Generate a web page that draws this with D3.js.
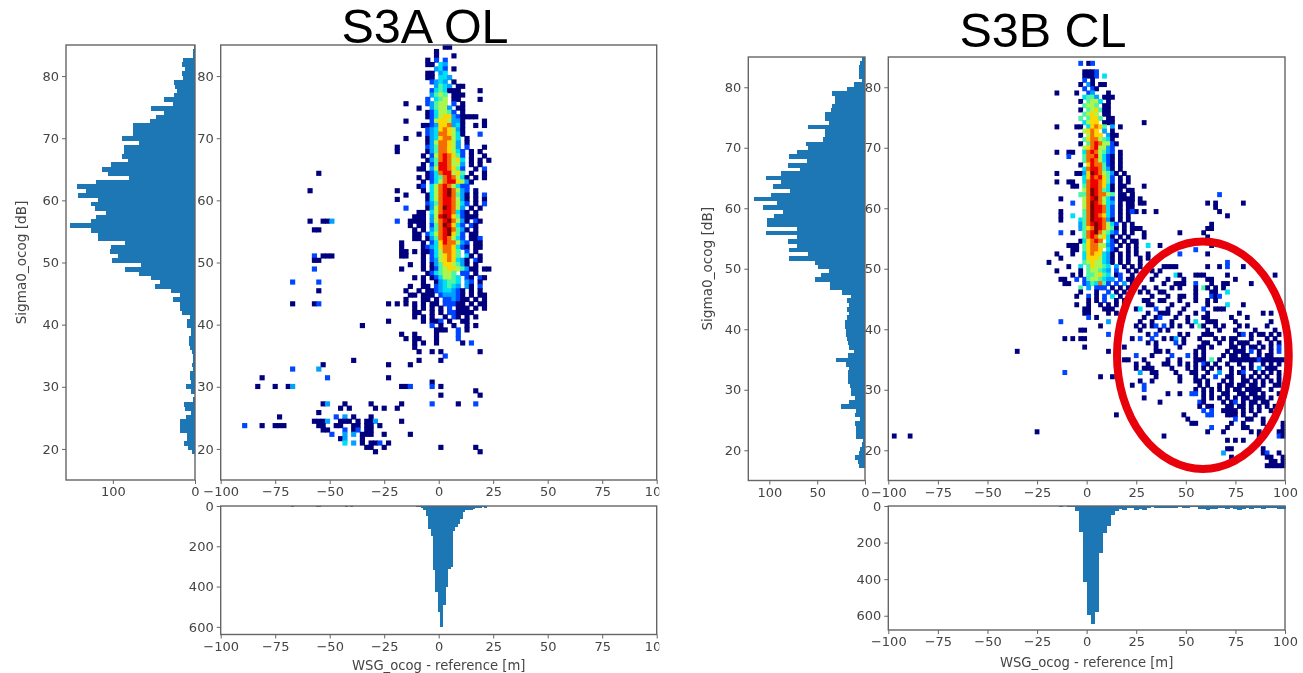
<!DOCTYPE html>
<html>
<head>
<meta charset="utf-8">
<script src="https://cdn.jsdelivr.net/npm/d3@7"></script>
<style>
  html, body { margin: 0; background: #fff; }
  text { font-family: "DejaVu Sans", sans-serif; }
</style>
</head>
<body>
<div id="chart"></div>
<script>
// 100 x 100 bins of the 2d histogram, x -100..100 m, y 15..85 dB
const wsgBin = 2;
const sigmaBin = 0.7;
const sigmaTop = 85;

const wsgTicks = [-100, -75, -50, -25, 0, 25, 50, 75, 100];
const sigmaTicks = [20, 30, 40, 50, 60, 70, 80];
const titles = ["S3A OL", "S3B CL"];
const xLabel = "WSG_ocog - reference [m]";
const yLabel = "Sigma0_ocog [dB]";

// side histograms, top row first
const s3aSigmaCounts = [1,2,2,14,16,12,16,14,26,24,22,26,38,27,53,38,47,55,76,76,76,89,68,87,86,89,81,102,113,106,80,120,144,
  133,142,118,127,122,108,120,127,152,127,118,118,85,102,103,94,101,66,85,68,53,42,49,29,18,27,18,18,16,6,
  10,10,5,5,7,7,6,4,2,3,4,2,6,6,5,11,5,0,3,13,12,5,11,18,18,18,10,10,13,8,4,0,0,0,0,0,0];
const s3bSigmaCounts = [3,5,6,6,6,3,12,19,34,31,31,34,36,42,42,38,60,42,42,44,62,60,71,79,61,81,68,88,103,88,96,78,98,116,92,107,86,95,102,102,
  71,103,71,81,71,79,60,79,52,49,38,46,52,37,37,24,15,19,17,19,17,19,21,21,20,20,19,18,17,12,18,30,20,17,18,18,18,16,15,15,
  10,17,25,9,10,5,10,9,9,9,2,3,5,6,10,7,6,0,0,0];

// bottom histograms. S3A has its own 100 bins over -90..22 m
const s3aWsgStart = -90;
const s3aWsgStep = 1.12;
const s3aWsgCounts = [1,0,0,0,0,0,0,0,0,0, 0,0,0,1,0,0,0,0,1,0, 3,0,0,0,0,0,0,0,1,2, 7,4,1,1,1,0,0,0,0,0,
  0,1,3,1,3,1,0,0,1,0, 1,1,0,1,0,0,1,0,0,0, 1,0,0,0,0,1,0,2,0,1, 2,3,4,8,20,50,112,150,320,425,
  525,603,490,400,315,303,122,105,88,65, 32,22,18,18,14,12,10,8,6,8];
const s3bWsgStart = -100;
const s3bWsgStep = 2;
const s3bWsgCounts = [0,0,0,0,0,0,0,0,0,0, 0,0,0,0,0,0,0,0,0,0, 0,0,0,0,0,0,0,0,0,0, 0,0,0,0,0,0,0,0,0,0,
  0,0,0,3,1,3,3,27,140,416, 598,645,580,258,145,107,49,27,16,22, 9,12,22,14,20,12,4,10,10,9,
  10,9,10,8,10,9,8,8,14,16, 22,18,14,12,10,14,12,18,20,16, 12,14,10,12,14,12,10,12,14,14];

// dense part of the 2d histograms, one string per row from the top,
// first character is the bin centred on the start value, a = 10 counts
const s3aCoreStart = -23;
const s3aCore = [
  "             11",
  "           1",
  "           1   1",
  "         1 2 2",
  "         11 43",
  "           342 1",
  "         11 34",
  "         11 443",
  "          2343 1",
  "           3543 11",
  "          2454111    1",
  "          3565 111",
  "         2 456 11    1",
  "    1    23566 2 1",
  "       1  35663 11",
  "         1246652 1",
  "         124677321111",
  "    1     26776331    1",
  "        1123778341  1 1",
  "         234787631",
  "       1 234887641   2",
  "    1    13478864 1",
  "         13688763 1",
  "  1      23588763 2   1",
  "  1      135887642 1 1",
  "        1 26898752 1  1",
  "         135898674 1 1 1",
  "        1 25998663 1 1",
  "       11 36998752  1 2",
  "         124899675 1  1",
  "       1 1245898641 1 1",
  "        1 2468997631",
  "       12 468986422",
  "  1     1 4689a8632 1",
  "    1    14689a8531 1 2",
  "  1      1468998631 1 1",
  "         2358998642 1 2",
  "    2    1368a9863 1 1",
  "       11 468998421 1",
  "      111 369a9752111",
  "  2  1111 3689a8631 21",
  "     1 11 258a9742 21",
  "      1 1 3589a8531 1",
  "      11 24689a752 11",
  "      11 135898642 112",
  "   1    1 247988632 11",
  "   1    12347887421 11",
  "   11 1 112468875 2 1",
  "   11   1 2467875 41 1",
  "        1 236787431 21",
  "     1  1 135776531 1",
  "   1    1 12567765311 11",
  "         1245665 22 1",
  "      1 1 1246654 21 21",
  "        1  134554 32 1",
  "     1  11 234543 31 2",
  "    1  1 112344321 1 1",
  "     11 111 233321 1 11",
  "    1   11 1 223211 1 1",
  "  1 1 1 1 11 22211 1 11",
  "      1 1 1 1 2 111 1 1",
  "      11  1 1 221111",
  "      1 1 1  1 21 1 1",
  "        1 112 1  11",
  "          2 1  1  1 1",
  "           111  2 1",
  "   1  1    1    2",
  "    1 11   1    2",
  "      1 1  1     1 2",
  "      1",
  "       1  1 1        1",
  "             2",
  "       1    1"
];
const s3bCoreStart = -19;
const s3bCore = [
  "",
  "        2 12",
  "",
  "         1112",
  "         1112 4",
  "         2 1",
  "        1 31 11",
  "         2 21",
  "  1    1  23   1",
  "         4553 111",
  "        1 5664 1",
  "         5665 11",
  "        1 567511",
  "         5676 11",
  "        5 5775 11",
  "         4677 111",
  "  1    11 47875 3 1",
  "         6787 3 1",
  "        1 6877 311",
  "         57886541",
  "        1 58986621",
  "         67896632",
  "  1  11  48986532 1",
  "     2   58896421 1",
  "         58986421 1",
  "        1 7988521 1",
  "         48998531 1",
  "  1    1137a986531 1",
  "         47989752 1 1",
  "  1  11  48998752 1 1",
  "      11 58998741 11",
  "         68a98541 1 1",
  "        558a98865 11 1",
  "   1     689a8642 11 1 1",
  "      2  68a98643 1 11",
  "         68a99842 1 11",
  "   1     58a99842 1 1 1",
  "   1  4  58a98742 1 1",
  "   1    458a99831 1 1",
  "        3589a98642 1 1",
  "        3578a98651 1 1 1",
  "   2  1  589a86532 1 1",
  "         58986741 1 1",
  "        147898 421 1 11",
  "     111 57886632 1 1",
  "      11 57887 421  1 1",
  "  1   1  47877431 1 1 1",
  "   1     47776431 1 1",
  "1        56766431 1 1",
  "     1  4 576654 3 1 1 1",
  "  1     1 566543 2  1 1",
  "      1 1 556754 12  1",
  "   11  2 25665433 2 11",
  "    11   2354852 2 3 1",
  "        5 3 222 1 1 1",
  "        1   1  2 1 1 1",
  "       1  2 1 2 4 1 1",
  "          1 1 2  1 1",
  "       1  1  1 1 1 1",
  "         11   111  1"
];

// isolated cells: [sigma, "wsg wsg:count ..."], one count when no count is given
const s3aScatter = [
  [64.35, "-55"], [61.55, "-59"], [56.65, "-59 -53 -51 -49:3"], [55.25, "-57 -55"],
  [51.05, "-57:2 -53 -51 -49"], [50.35, "-57 -55"], [48.95, "-57:2"], [46.85, "-67:2 -55:2"],
  [45.45, "-55"], [43.35, "-67 -57 -55:2 -23"], [40.55, "-23"], [39.85, "-35"], [34.25, "-39"],
  [33.55, "-53 -23 -13"], [32.85, "-67:2 -55:3"], [31.45, "-81 -51:2 -23"], [30.75, "-3"],
  [30.05, "-83 -75 -69 -67:3 -17 -15 -13:2 -3:2 1"], [29.35, "17"], [28.65, "1 19"],
  [27.25, "-53 -51:3 -43 -31 -17 -3:2 9 17:2"], [26.55, "-45 -41 -29 -25 -19"], [25.85, "-55"],
  [25.15, "-73 -47:2 -43:3 -39 -31"], [24.45, "-57 -55 -53 -51:3 -45 -43 -41 -37 -33 -31 -29:3 -17"],
  [23.75, "-89:2 -81 -75 -73 -71 -55 -53 -47 -45 -39 -37 -33 -31 -27"],
  [23.05, "-53 -51 -43:2 -39 -37:2 -33 -31"], [22.35, "-49:2 -43:3 -39:3 -35 -33 -31 -25 -13"],
  [21.65, "-45 -43:3 -35"], [20.95, "-43:4 -39:3 -35 -31 -29 -27:2 -23"], [20.25, "-33 -31 -25 1 17"],
  [19.55, "-29 19"]
];
const s3bScatter = [
  [74.15, "29"], [63.65, "29"], [62.95, "21 23"], [62.25, "23 67:2"], [61.55, "21 23"],
  [60.85, "21 27 29 61 65 79"], [60.15, "65"], [59.45, "23:2 29 35 67"], [58.75, "71"],
  [57.35, "63"], [56.65, "25 61 63"], [55.95, "29 47 59"], [55.25, "29 61"],
  [53.85, "25 31:4 37 63"], [53.15, "55:2"], [52.45, "31 47:2 61"], [51.75, "27 31"],
  [51.05, "27 71:2"], [50.35, "39 41 43 45 61 67 71:2 79"], [49.65, "29 37 33"],
  [48.95, "35 45:4 47 55 57 59 71 95"], [48.25, "27 33 41 49 61 63 75"], [47.55, "39 45 47 49 55:2 63 69 71 83"],
  [46.85, "29 35 43 47 55 59:5 61 65 69"], [46.15, "27 31 37 39 55 63 65 71:4"], [45.45, "33 41 47 49 55 63:2 65 67:2"],
  [44.75, "29 31 37 39 47 55 61 65"], [44.05, "31 33 43 51 61 71:4 79"], [43.35, "25 27:4 35:2 41 49 59:2 65 67 69"],
  [42.65, "-1 1 11 15 31 37 39 41 47 55 61 77 89 93"], [41.95, "1:2 5 29 35 37:2 45 51 59 61 73 81"],
  [41.25, "-13:2 11:3 27 33 43 51 55:4 61 63 65 75 93"],
  [40.55, "7 25 29 33 35:2 39:2 43 47 53 57:5 59 65 69 77 81 91"], [39.85, "-3 -1 27 37 41 61 67 75 85 95"],
  [39.15, "11:2 31 35:2 47 51 59 61 63 77 79:2 83 87 89 93 97"],
  [38.45, "-11 -7 -3 -1 23 27:2 33:2 39 43 45:3 49 57 65 69 73 75 83 91 95"],
  [37.75, "31 35 45:2 49 59 61 67 73 77 79 81 87 93 97"], [37.05, "-1 19 35 47 57 59 63 73 75 79 83 85 89 93 97:2"],
  [36.35, "-35 11 35 37 41 55 59 71 75 77 79 83:2 87 93 97:2"],
  [35.65, "25:2 33 43:2 51:2 55 59 69 73 75 79 81 87 91 93"],
  [34.95, "19 21 29 41 47 55 57 59 63:5 67 73 75 77 79 81 83 85 87:2 89 91 93 95 97 99"],
  [34.25, "25 31 39 41 47 51 55 59:2 61 65 71 77 83 89 93 97"],
  [33.55, "25 29 31 33 43 51 55 59 63 67 73 79 83 87:3 91 93 95"],
  [32.85, "-11:2 27:3 33 35 45 53 55 61 67:3 73 77 79:2 85 89 93 97"], [32.15, "7 13 35 47 55 59 65:2 71 73 79 83 87 91 97"],
  [31.45, "27 33 47 55 57 61 69 73 79 81 85 89 93 97"], [30.75, "23 29:2 57 61 67 71 73 77 79 83 85 89 95 97"],
  [30.05, "29:2 55 59 63 67 71 75 77 81 83 85 87 93"], [29.35, "41 47 53:2 55:2 59 63 69 71 77 79 83 85 89 97"],
  [28.65, "29 59 63 67 71 75 79 81 85 87 89 93"], [27.95, "37 57:2 59 69 73 75:2 79 83 85 89 91"],
  [27.25, "57 61 63 71 73 77 79 83 87 91 95"], [26.55, "59:2 63:2 69 71 73 75 79 83 87 93"],
  [25.85, "15 49 61:2 63:2 71 73 75 79 85"], [25.15, "51 75:2 81 83 89"], [24.45, "53 55 73 79 89 99"],
  [23.75, "63:2 71 79 81 91 99"], [23.05, "-25 61 69 83 87 97 99"], [22.35, "-97 -89 39 87 97:2 99"],
  [21.65, "71 75 79"], [20.25, "71 73 89"], [19.55, "69:3 89 91:2 97"], [18.85, "73 91 93 99"],
  [18.15, "93 95 99"], [17.45, "91 93 95 97 99"]
];

// annotation on the S3B panel, in data units
const ringWsg = 58.6;
const ringSigma = 35.7;
const ringRx = 43.3;
const ringRy = 18.8;

const width = 1303;
const height = 673;
const histColor = "#1f77b4";
const frameColor = "#666";
const textColor = "#444";

const panels = [
  {title: titles[0], titleX: 425, titleY: 43, left: 220.7, right: 656.7, top: 45, bottom: 480,
   sideLeft: 66, sideRight: 195, sideMax: 157, sideTicks: [100, 0], ylabelX: 26, xlabelY: 670,
   histTop: 506, histBottom: 634.5, histMax: 638, histTicks: [0, 200, 400, 600],
   sideCounts: s3aSigmaCounts, wsgCounts: s3aWsgCounts, wsgStart: s3aWsgStart, wsgStep: s3aWsgStep,
   core: s3aCore, coreStart: s3aCoreStart, scatter: s3aScatter},
  {title: titles[1], titleX: 1043, titleY: 47, left: 888.3, right: 1285, top: 57, bottom: 480.5,
   sideLeft: 748.3, sideRight: 865, sideMax: 122, sideTicks: [100, 50, 0], ylabelX: 712, xlabelY: 667,
   histTop: 506, histBottom: 630, histMax: 678, histTicks: [0, 200, 400, 600],
   sideCounts: s3bSigmaCounts, wsgCounts: s3bWsgCounts, wsgStart: s3bWsgStart, wsgStep: s3bWsgStep,
   core: s3bCore, coreStart: s3bCoreStart, scatter: s3bScatter}
];

// matplotlib jet, 1 count = navy
const jet = d3.scaleLinear()
  .domain([0, 0.11, 0.22, 0.35, 0.5, 0.65, 0.89, 1])
  .range(["#00007f", "#0044ff", "#00a0ff", "#00e8f0", "#7bff7b", "#ffe600", "#ee0000", "#7f0000"])
  .clamp(true);
const countColor = c => jet((c - 1) / 9);

// core strings and scatter lists -> [wsg, sigma, count] cells
function toCells(p) {
  const cells = [];
  p.core.forEach((row, t) => {
    const sigma = sigmaTop - sigmaBin * (t + 0.5);
    row.split("").forEach((ch, i) => {
      if (ch !== " ") cells.push([p.coreStart + i * wsgBin, sigma, parseInt(ch, 16)]);
    });
  });
  p.scatter.forEach(([sigma, list]) => {
    list.split(" ").forEach(item => {
      const [wsg, count] = item.split(":").map(Number);
      cells.push([wsg, sigma, count || 1]);
    });
  });
  return cells;
}

const svg = d3.select("#chart")
  .append("svg")
  .attr("width", width)
  .attr("height", height)
  .style("display", "block");

// the reference is an upscaled screenshot
const defs = svg.append("defs");
defs.append("filter")
  .attr("id", "soft")
  .attr("x", "-5%").attr("y", "-5%").attr("width", "110%").attr("height", "110%")
  .append("feGaussianBlur")
  .attr("stdDeviation", 0.6);
defs.append("filter")
  .attr("id", "softText")
  .attr("x", "-5%").attr("y", "-5%").attr("width", "110%").attr("height", "110%")
  .append("feGaussianBlur")
  .attr("stdDeviation", 0.4);

function styleAxis(g) {
  g.select(".domain").remove();
  g.selectAll(".tick line").attr("stroke", frameColor).attr("stroke-width", 1);
  g.selectAll(".tick text").attr("fill", textColor).style("font-size", "13px");
}

function frame(g, x, y, w, h) {
  g.append("rect")
    .attr("x", x).attr("y", y).attr("width", w).attr("height", h)
    .attr("fill", "none")
    .attr("stroke", frameColor)
    .attr("stroke-width", 1.4);
}

function drawPanel(p) {
  const g = svg.append("g");

  const x = d3.scaleLinear().domain([-100, 100]).range([p.left, p.right]);
  const y = d3.scaleLinear().domain([15, sigmaTop]).range([p.bottom, p.top]);
  const sideX = d3.scaleLinear().domain([p.sideMax, 0]).range([p.sideLeft, p.sideRight]);
  const histY = d3.scaleLinear().domain([0, p.histMax]).range([p.histTop, p.histBottom]);

  const marks = g.append("g").attr("filter", "url(#soft)");

  // 2d histogram, cells a bit oversize because of the blur in the reference
  marks.append("g")
    .selectAll("rect")
    .data(toCells(p))
    .join("rect")
      .attr("x", d => x(d[0] - wsgBin / 2) - 0.4)
      .attr("y", d => y(d[1] + sigmaBin / 2) - 0.4)
      .attr("width", x(wsgBin) - x(0) + 0.8)
      .attr("height", y(0) - y(sigmaBin) + 0.8)
      .attr("fill", d => countColor(d[2]));

  // side histogram
  marks.append("g")
    .attr("fill", histColor)
    .attr("shape-rendering", "crispEdges")
    .selectAll("rect")
    .data(p.sideCounts)
    .join("rect")
      .attr("x", d => sideX(d))
      .attr("y", (d, i) => y(sigmaTop - sigmaBin * i))
      .attr("width", d => sideX(0) - sideX(d))
      .attr("height", y(0) - y(sigmaBin) + 0.5);

  // bottom histogram
  marks.append("g")
    .attr("fill", histColor)
    .attr("shape-rendering", "crispEdges")
    .selectAll("rect")
    .data(p.wsgCounts)
    .join("rect")
      .attr("x", (d, i) => x(p.wsgStart + i * p.wsgStep))
      .attr("y", histY(0))
      .attr("width", x(p.wsgStep) - x(0) + 0.5)
      .attr("height", d => histY(d) - histY(0));

  const axes = g.append("g").attr("filter", "url(#softText)");

  frame(axes, p.left, p.top, p.right - p.left, p.bottom - p.top);
  frame(axes, p.sideLeft, p.top, p.sideRight - p.sideLeft, p.bottom - p.top);
  frame(axes, p.left, p.histTop, p.right - p.left, p.histBottom - p.histTop);

  axes.append("g")
    .attr("transform", `translate(0,${p.bottom})`)
    .call(d3.axisBottom(x).tickValues(wsgTicks).tickSize(4).tickPadding(3))
    .call(styleAxis);
  axes.append("g")
    .attr("transform", `translate(${p.left},0)`)
    .call(d3.axisLeft(y).tickValues(sigmaTicks).tickSize(4).tickPadding(3))
    .call(styleAxis);
  axes.append("g")
    .attr("transform", `translate(${p.sideLeft},0)`)
    .call(d3.axisLeft(y).tickValues(sigmaTicks).tickSize(4).tickPadding(3))
    .call(styleAxis);
  axes.append("g")
    .attr("transform", `translate(0,${p.bottom})`)
    .call(d3.axisBottom(sideX).tickValues(p.sideTicks).tickSize(4).tickPadding(3))
    .call(styleAxis);
  axes.append("g")
    .attr("transform", `translate(${p.left},0)`)
    .call(d3.axisLeft(histY).tickValues(p.histTicks).tickSize(4).tickPadding(3))
    .call(styleAxis);
  axes.append("g")
    .attr("transform", `translate(0,${p.histBottom})`)
    .call(d3.axisBottom(x).tickValues(wsgTicks).tickSize(4).tickPadding(3))
    .call(styleAxis);

  // labels
  axes.append("text")
    .attr("x", (p.left + p.right) / 2)
    .attr("y", p.xlabelY)
    .attr("text-anchor", "middle")
    .attr("fill", textColor)
    .style("font-size", "13.2px")
    .text(xLabel);
  axes.append("text")
    .attr("transform", `translate(${p.ylabelX},${(p.top + p.bottom) / 2}) rotate(-90)`)
    .attr("text-anchor", "middle")
    .attr("fill", textColor)
    .style("font-size", "13.6px")
    .text(yLabel);
  g.append("text")
    .attr("x", p.titleX)
    .attr("y", p.titleY)
    .attr("text-anchor", "middle")
    .attr("fill", "#000")
    .style("font-family", '"Liberation Sans", Arial, sans-serif')
    .style("font-size", "48.5px")
    .text(p.title);

  return {x, y};
}

const scalesA = drawPanel(panels[0]);

// the S3B picture was pasted over the end of the S3A axis labels
svg.append("rect")
  .attr("x", scalesA.x(100) + 2.5)
  .attr("y", scalesA.y(15))
  .attr("width", 30)
  .attr("height", height - scalesA.y(15))
  .attr("fill", "#fff");

const scalesB = drawPanel(panels[1]);

svg.append("ellipse")
  .attr("cx", scalesB.x(ringWsg))
  .attr("cy", scalesB.y(ringSigma))
  .attr("rx", scalesB.x(ringRx) - scalesB.x(0))
  .attr("ry", scalesB.y(0) - scalesB.y(ringRy))
  .attr("fill", "none")
  .attr("stroke", "#e8000b")
  .attr("stroke-width", 8);
</script>
</body>
</html>
